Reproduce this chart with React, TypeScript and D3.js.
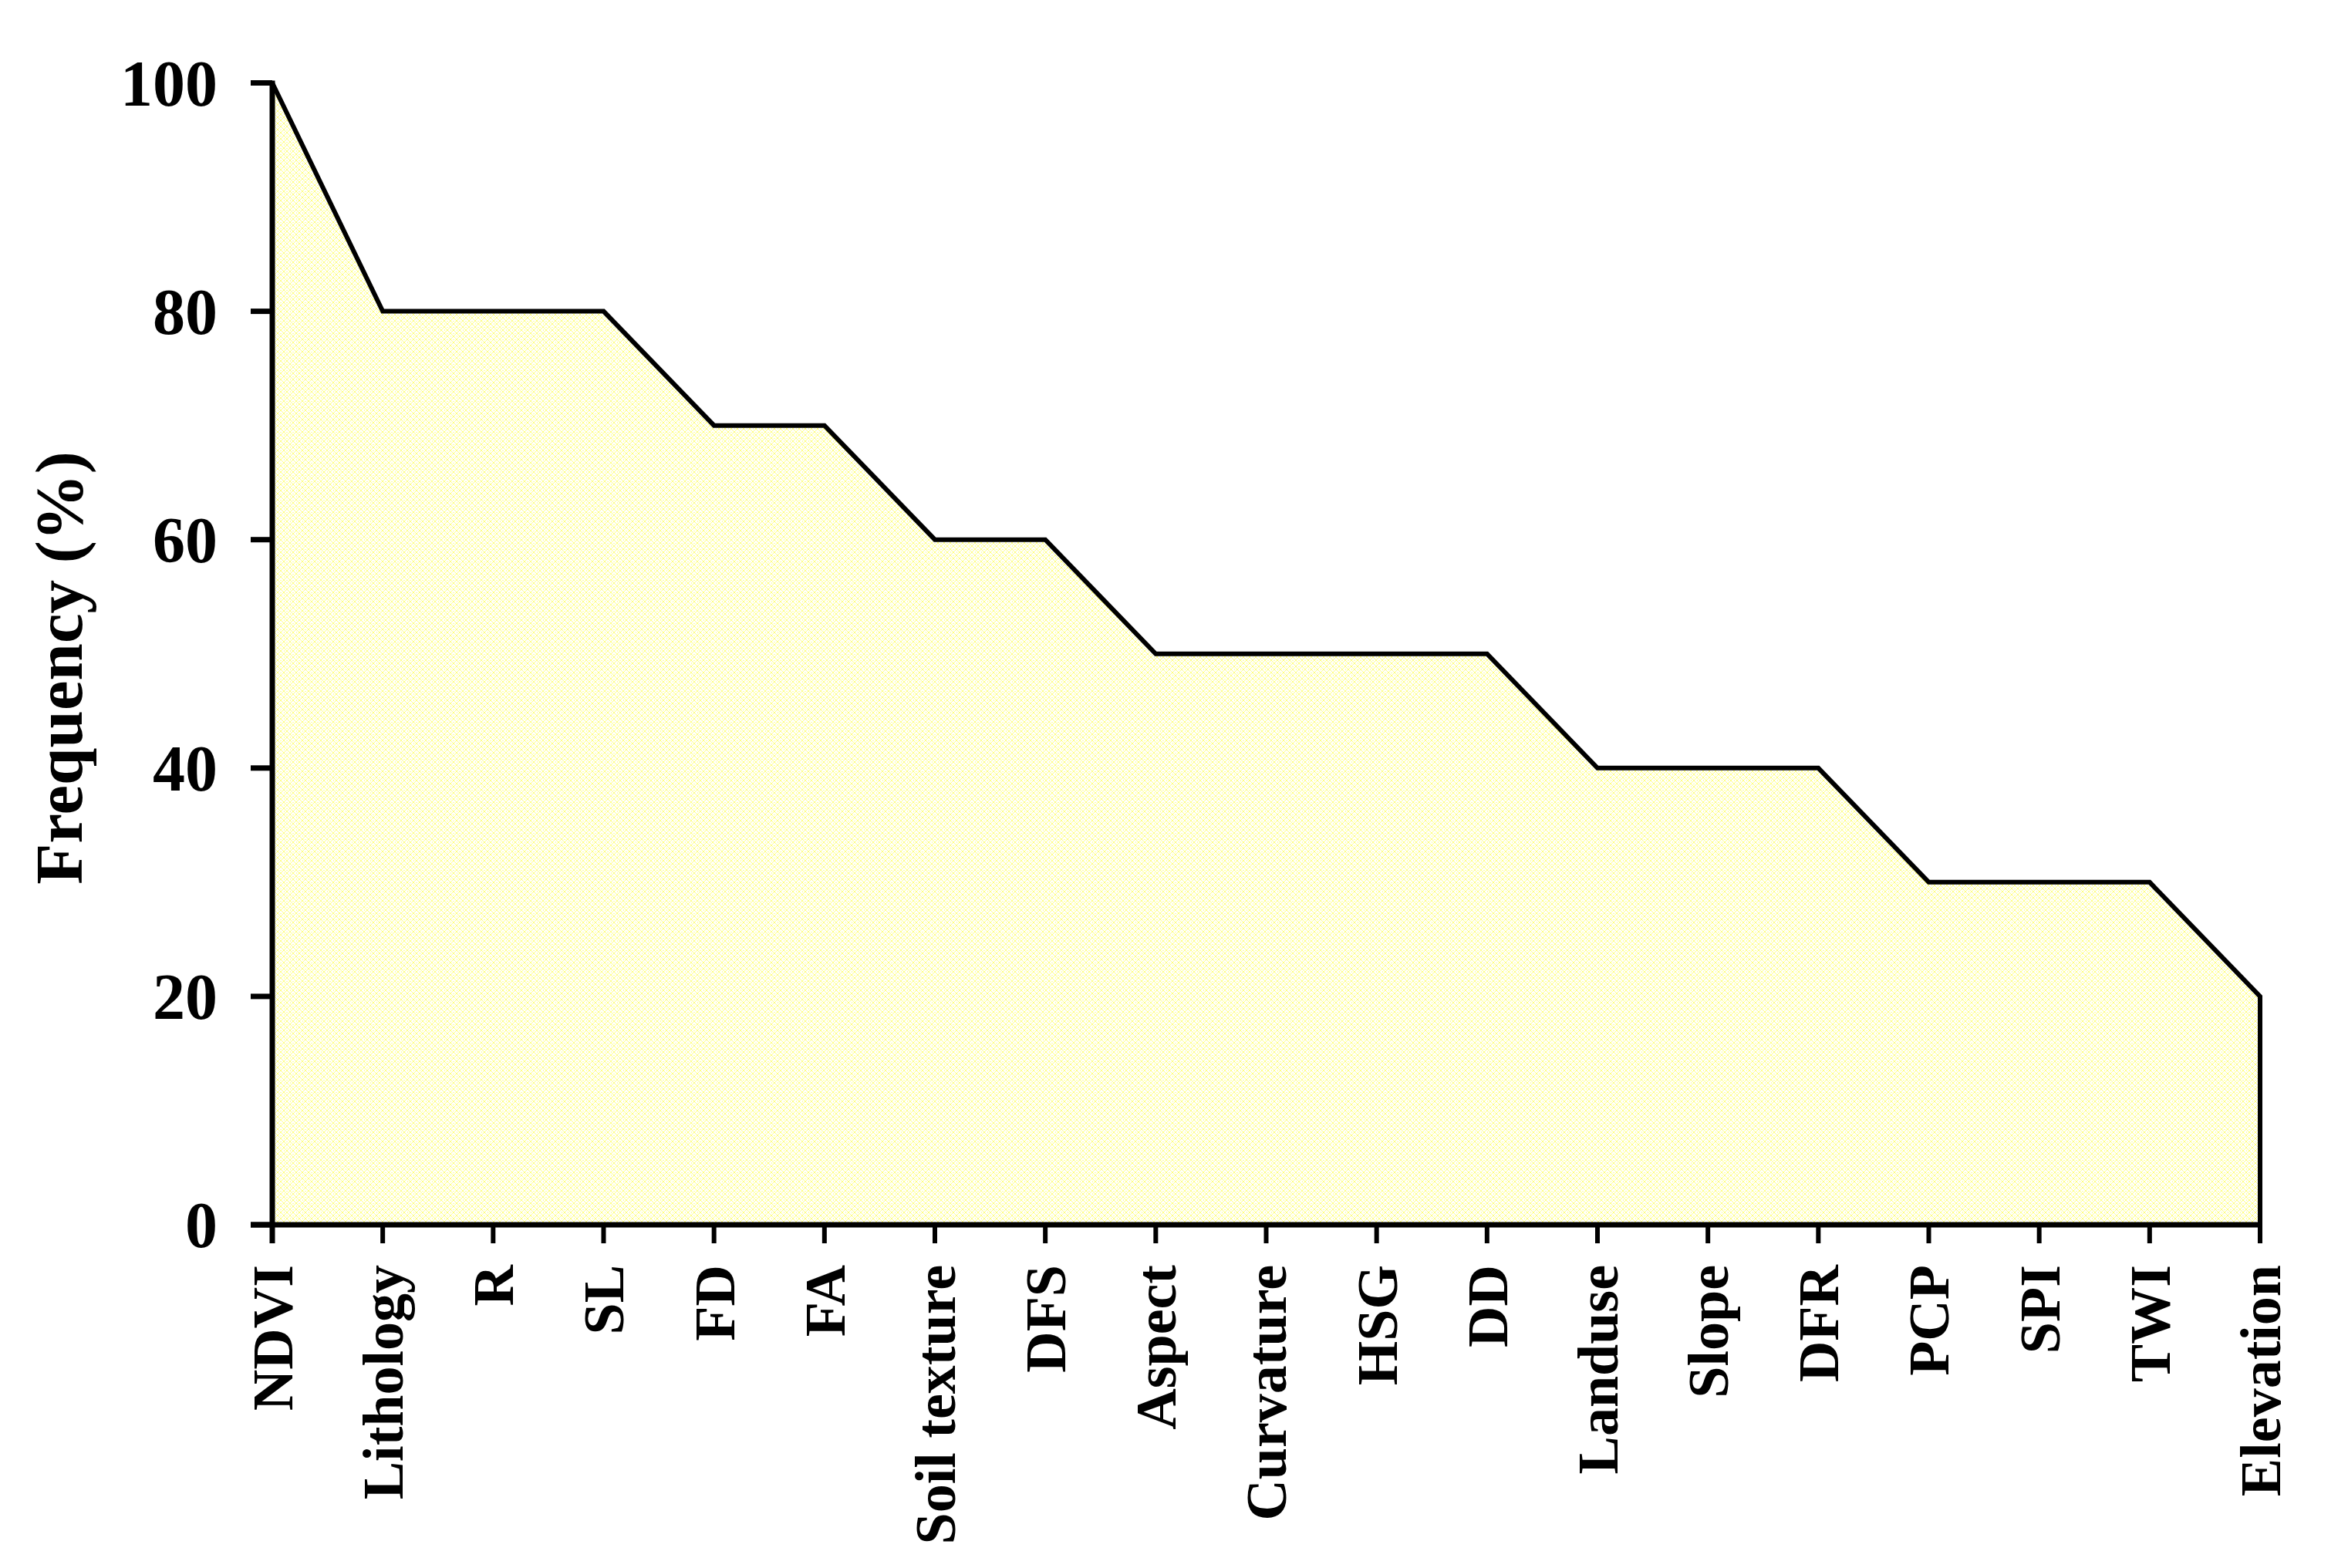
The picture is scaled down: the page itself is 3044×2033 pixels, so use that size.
import React from "react";
import * as d3 from "d3";

const categories = ["NDVI","Lithology","R","SL","FD","FA","Soil texture","DFS","Aspect","Curvature","HSG","DD","Landuse","Slope","DFR","PCP","SPI","TWI","Elevation"];
const frequency = [100,80,80,80,70,70,60,60,50,50,50,50,40,40,40,30,30,30,20];
const yTicks = [0,20,40,60,80,100];
const yTitle = "Frequency (%)";

const W = 3044, H = 2033;
const FONT = "'Liberation Serif', 'Times New Roman', serif";

export default function App() {
  const x = d3.scalePoint<string>().domain(categories).range([353, 2930]);
  const y = d3.scaleLinear().domain([0, 100]).range([1588, 107.5]);
  const data = categories.map((c, i) => ({ c, v: frequency[i] }));
  const area = d3.area<{c:string;v:number}>().x(d => x(d.c)!).y0(y(0)).y1(d => y(d.v));
  const linePts: [number, number][] = data.map(d => [x(d.c)!, y(d.v)]);
  const last = data[data.length - 1];
  linePts.push([x(last.c)!, y(0)]);
  const line = d3.line()(linePts)!;
  const x0 = x(categories[0])!;
  const xN = x(last.c)!;

  // pattern pixels: X crosses on 8x8 tile
  const pix: [number, number][] = [];
  for (let i = 0; i < 8; i++) {
    pix.push([i, i]);
    if (7 - i !== i) pix.push([7 - i, i]);
  }

  return (
    <svg width={W} height={H} style={{ position: "absolute", left: 0, top: 0, display: "block", background: "#fff" }}>
      <defs>
        <pattern id="fillpat" width={8} height={8} patternUnits="userSpaceOnUse">
          <rect width={8} height={8} fill="#ffffff" />
          {pix.map(([px, py], k) => (
            <rect key={k} x={px} y={py} width={1} height={1} fill="#ffff80" shapeRendering="crispEdges" />
          ))}
          <rect x={3} y={0} width={2} height={1} fill="#ffffa0" shapeRendering="crispEdges" />
          <rect x={0} y={3} width={1} height={2} fill="#ffffa0" shapeRendering="crispEdges" />
        </pattern>
      </defs>
      <rect width={W} height={H} fill="#fff" />
      <path d={area(data)!} fill="url(#fillpat)" stroke="none" />
      <path d={line} fill="none" stroke="#000" strokeWidth={6} strokeLinejoin="miter" />
      {/* y axis */}
      <line x1={x0} x2={x0} y1={y(100) - 3} y2={y(0) + 24} stroke="#000" strokeWidth={7} />
      {yTicks.map(t => (
        <g key={t}>
          <line x1={325} x2={x0} y1={y(t)} y2={y(t)} stroke="#000" strokeWidth={7} />
          <text x={282} y={y(t)} dy="0.35em" textAnchor="end" fontFamily={FONT} fontWeight="bold" fontSize={84}>{t}</text>
        </g>
      ))}
      {/* x axis */}
      <line x1={325} x2={xN + 3} y1={y(0)} y2={y(0)} stroke="#000" strokeWidth={7} />
      {categories.map(c => (
        <g key={c}>
          <line x1={x(c)!} x2={x(c)!} y1={y(0)} y2={y(0) + 24} stroke="#000" strokeWidth={6} />
          <text transform={`translate(${x(c)!},1640) rotate(-90)`} dy="0.35em" textAnchor="end" fontFamily={FONT} fontWeight="bold" fontSize={74}>{c}</text>
        </g>
      ))}
      <text transform="translate(106,866) rotate(-90)" textAnchor="middle" fontFamily={FONT} fontWeight="bold" fontSize={87}>{yTitle}</text>
    </svg>
  );
}
